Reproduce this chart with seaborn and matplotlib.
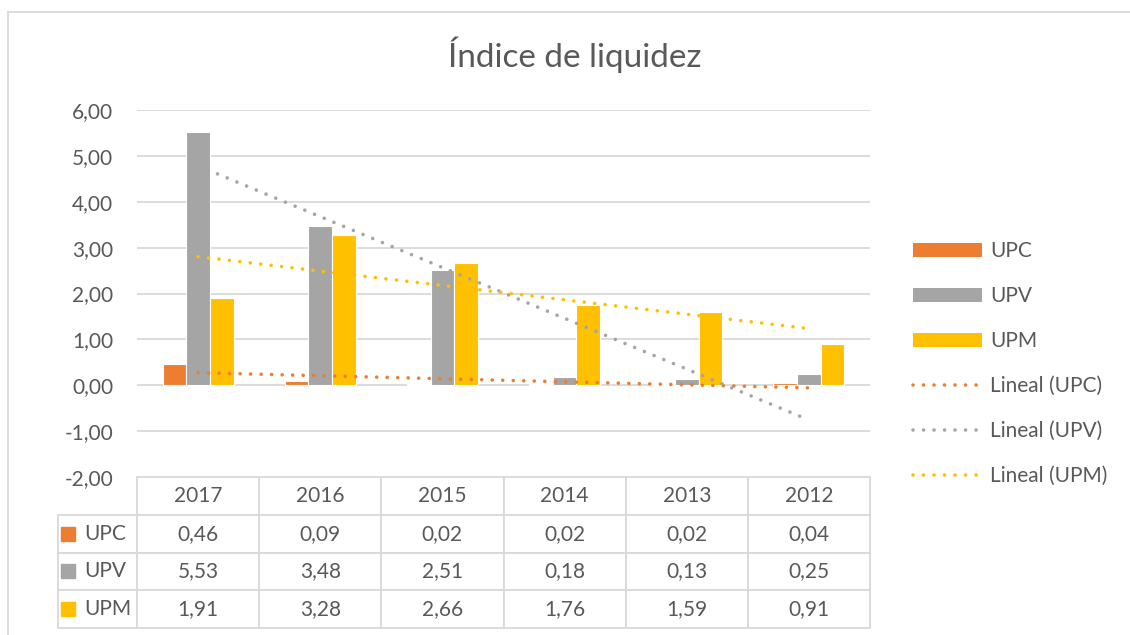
import numpy as np
import pandas as pd
import seaborn as sns
import matplotlib.pyplot as plt
from matplotlib.patches import Patch, Rectangle
from matplotlib.lines import Line2D
from matplotlib.ticker import FuncFormatter

years = ['2017', '2016', '2015', '2014', '2013', '2012']
series = ['UPC', 'UPV', 'UPM']
upc = [0.46, 0.09, 0.02, 0.02, 0.02, 0.04]
upv = [5.53, 3.48, 2.51, 0.18, 0.13, 0.25]
upm = [1.91, 3.28, 2.66, 1.76, 1.59, 0.91]
colors = ['#ED7D31', '#A5A5A5', '#FFC000']

def fmt(v):
  return '{:.2f}'.format(v).replace('.', ',')

df = pd.DataFrame({
  'year': years * 3,
  'serie': [s for s in series for _ in years],
  'value': upc + upv + upm,
})

sns.set_theme(style='white')
plt.rcParams['font.family'] = ['Lato', 'DejaVu Sans']
txt = '#595959'
grid = '#d9d9d9'
fs = 15

fig = plt.figure(figsize=(11.3, 6.35), dpi=100)
W, H = 1130, 635
ax = fig.add_axes([137/W, 1-477/H, (870-137)/W, (477-110)/H])

# chart frame
fig.patches.append(Rectangle((8/W, -0.1), 1.2, 1-12/H+0.1, transform=fig.transFigure,
                             fill=False, edgecolor=grid, lw=1.3))

sns.barplot(data=df, x='year', y='value', hue='serie', order=years, hue_order=series,
            palette=colors, width=0.58, edgecolor='white', linewidth=0.8,
            saturation=1, legend=False, ax=ax, zorder=3)

# linear trends
xs = np.arange(len(years))
for vals, c in zip([upc, upv, upm], colors):
  k, b = np.polyfit(xs, vals, 1)
  ax.plot(xs, k*xs+b, color=c, lw=2.6, linestyle=(0, (0.01, 2.9)),
          dash_capstyle='round', zorder=4)

ax.set_ylim(-2, 6)
ax.set_xlim(-0.5, 5.5)
ax.set_yticks(np.arange(-2, 7, 1))
ax.yaxis.set_major_formatter(FuncFormatter(lambda v, p: fmt(v)))
ax.tick_params(axis='y', length=0, pad=17, labelsize=fs, labelcolor=txt)
ax.set_xticks([])
ax.set_xlabel('')
ax.set_ylabel('')
for s in ax.spines.values():
  s.set_visible(False)
for v in range(-1, 7):
  ax.axhline(v, color=grid, lw=1.3, zorder=1)

# data table (bbox covers the data cells only, row labels hang to the left)
lab_w = (137-53)/733
tb_h = (629-478)/367
row_h = tb_h/4
tab = ax.table(cellText=[[fmt(v) for v in r] for r in [upc, upv, upm]],
               rowLabels=series, colLabels=years, cellLoc='center',
               colWidths=[1/6]*6, bbox=[0, -tb_h, 1, tb_h])
tab.auto_set_font_size(False)
tab.set_fontsize(fs)
for (r, c), cell in tab.get_celld().items():
  cell.set_edgecolor(grid)
  cell.set_linewidth(1.3)
  cell.set_height(row_h)
  cell.get_text().set_color(txt)
  if c == -1:
    cell.set_width(lab_w)
    cell.get_text().set_horizontalalignment('left')
    cell.PAD = 28/84
  else:
    cell.set_width(1/6)
for i, c in enumerate(colors):
  yc = -row_h*(i+1.5)
  ax.add_patch(Rectangle((-(137-61)/733, yc-7/367), 14/733, 14/367,
                         transform=ax.transAxes, color=c, clip_on=False, zorder=5))

# legend
handles = [Patch(facecolor=c, edgecolor='none', label=s) for s, c in zip(series, colors)]
handles += [Line2D([], [], color=c, lw=2.6, linestyle=(0, (0.01, 2.9)),
                   dash_capstyle='round', label='Lineal ({})'.format(s))
            for s, c in zip(series, colors)]
fig.legend(handles=handles, loc='upper left', bbox_to_anchor=(905/W, 1-233/H),
           frameon=False, fontsize=fs, labelcolor=txt, handlelength=3.3,
           handleheight=0.68, handletextpad=0.4, labelspacing=1.2, borderaxespad=0)

fig.text(575/W, 1-55/H, 'Índice de liquidez', ha='center', va='center',
         fontsize=24, color=txt)

fig.savefig('out.png', dpi=100)
